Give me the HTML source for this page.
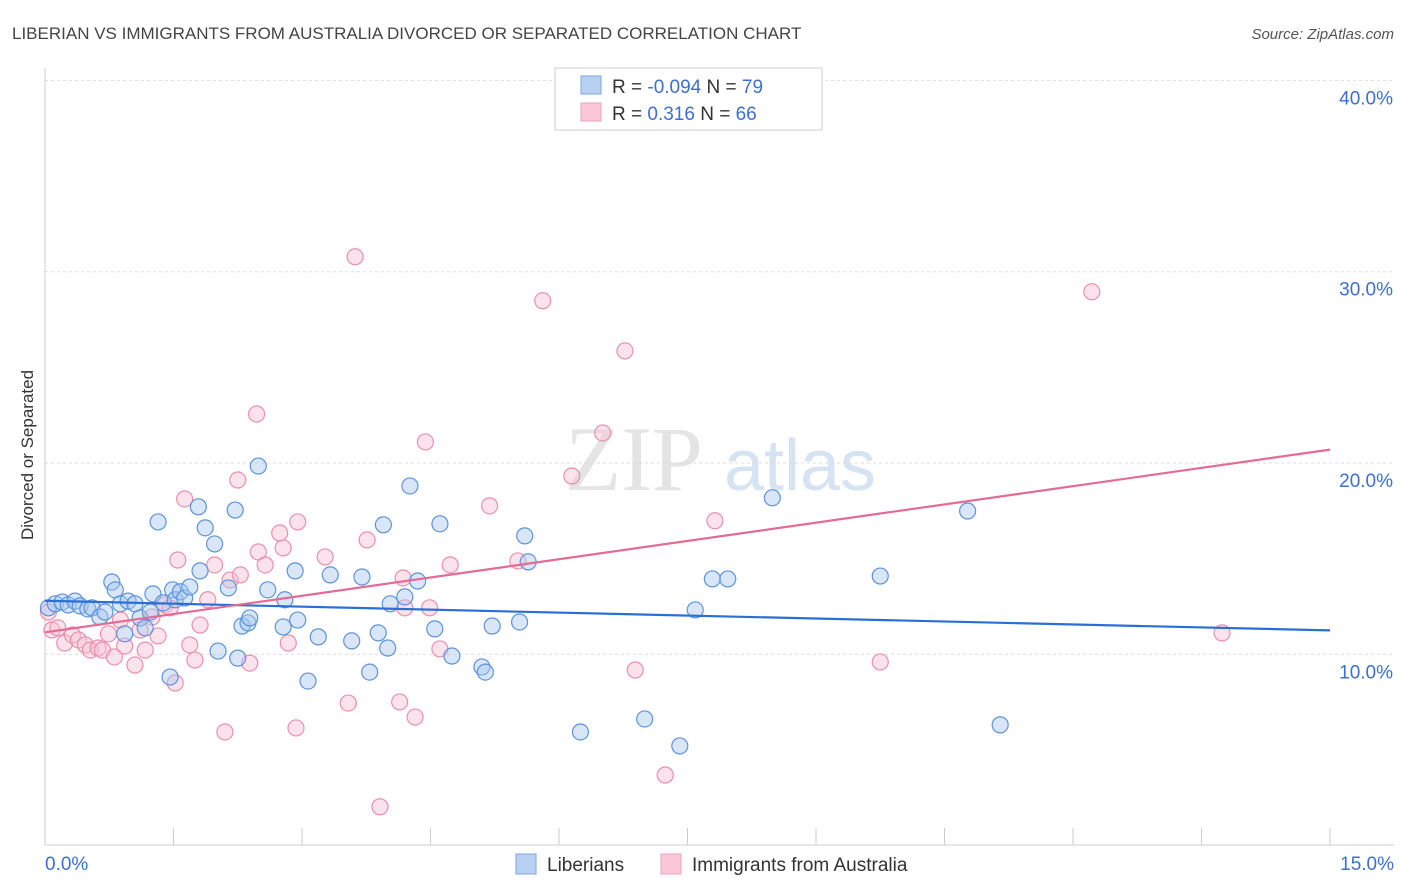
<!DOCTYPE html>
<html><head><meta charset="utf-8"><style>
body{margin:0;background:#fff;font-family:"Liberation Sans",sans-serif;}
svg{display:block}
</style></head><body>
<svg id="c" width="1406" height="892">
<text x="12" y="39" font-size="17" fill="#444">LIBERIAN VS IMMIGRANTS FROM AUSTRALIA DIVORCED OR SEPARATED CORRELATION CHART</text>
<text x="1394" y="39" font-size="15" fill="#555" text-anchor="end" font-style="italic">Source: ZipAtlas.com</text>
<text x="33" y="455" font-size="17" fill="#333" text-anchor="middle" transform="rotate(-90 33 455)">Divorced or Separated</text>
<text x="634" y="490" font-size="92" fill="#e4e4e4" text-anchor="middle" font-family="Liberation Serif,serif">ZIP</text>
<text x="800" y="490" font-size="72" fill="#d6e3f3" text-anchor="middle">atlas</text>
<g id="grid"></g><g id="marks"></g>
<g>
<rect x="555" y="68" width="267" height="62" fill="#fff" stroke="#ccc"/>
<rect x="581" y="76" width="20" height="18" fill="#b8d1f3" stroke="#7aa6e0"/>
<rect x="581" y="103" width="20" height="18" fill="#f9c7d6" stroke="#f0a0b8"/>
<text x="612" y="93" font-size="19" fill="#333">R = <tspan fill="#3d6fd0">-0.094</tspan>   N = <tspan fill="#3d6fd0">79</tspan></text>
<text x="612" y="120" font-size="19" fill="#333">R = <tspan fill="#3d6fd0">  0.316</tspan>   N = <tspan fill="#3d6fd0">66</tspan></text>
</g>
<g>
<rect x="516" y="854" width="20" height="20" fill="#b8d1f3" stroke="#7aa6e0"/>
<text x="547" y="871" font-size="19" fill="#333">Liberians</text>
<rect x="661" y="854" width="20" height="20" fill="#f9c7d6" stroke="#f0a0b8"/>
<text x="692" y="871" font-size="19" fill="#333">Immigrants from Australia</text>
</g>
</svg>
<script>
const yTicks=[10,20,30,40];
const yTickLabels=["10.0%","20.0%","30.0%","40.0%"];
const xTickLabels=["0.0%","15.0%"];
const blueX=[0.04,0.12,0.20,0.27,0.35,0.41,0.50,0.55,0.64,0.70,0.78,0.82,0.88,0.93,0.97,1.05,1.11,1.17,1.23,1.26,1.32,1.38,1.46,1.49,1.52,1.58,1.63,1.69,1.79,1.81,1.87,1.98,2.02,2.14,2.22,2.25,2.30,2.37,2.39,2.49,2.60,2.80,2.78,2.92,2.95,3.07,3.19,3.33,3.58,3.70,3.79,3.89,3.95,4.00,4.03,4.20,4.26,4.35,4.55,4.61,4.75,5.10,5.14,5.22,5.54,5.60,5.64,6.25,7.00,7.41,7.59,7.79,7.97,8.49,9.75,10.77,11.15];
const blueY=[12.43,12.64,12.73,12.58,12.78,12.53,12.37,12.43,11.95,12.21,13.78,13.37,12.64,11.07,12.78,12.64,11.90,11.38,12.21,13.16,16.92,12.69,8.81,13.37,12.85,13.27,12.94,13.52,17.71,14.36,16.61,15.77,10.17,13.47,17.54,9.80,11.48,11.64,11.90,19.84,13.37,12.85,11.43,14.36,11.79,8.60,10.91,14.15,10.70,14.04,9.07,11.12,16.77,10.33,12.64,13.00,18.80,13.83,11.33,16.82,9.91,9.34,9.07,11.48,11.69,16.19,14.83,5.94,6.62,5.21,12.32,13.94,13.94,18.18,14.09,17.49,6.31];
const pinkX=[0.04,0.08,0.15,0.23,0.32,0.39,0.47,0.53,0.62,0.67,0.74,0.81,0.88,0.93,1.05,1.11,1.17,1.25,1.32,1.40,1.46,1.52,1.55,1.63,1.69,1.75,1.81,1.90,1.98,2.10,2.16,2.25,2.28,2.39,2.47,2.49,2.57,2.74,2.78,2.84,2.93,2.95,3.27,3.54,3.62,3.76,3.91,4.14,4.18,4.20,4.32,4.44,4.49,4.61,4.73,5.19,5.52,5.81,6.15,6.51,6.77,6.89,7.24,7.82,9.75,12.22,13.74];
const pinkY=[12.21,11.27,11.38,10.59,11.01,10.75,10.49,10.22,10.33,10.22,11.07,9.86,11.79,10.43,9.44,11.27,10.22,11.95,10.96,12.58,12.43,8.50,14.93,18.12,10.49,9.70,11.53,12.85,14.67,5.94,13.88,19.11,14.15,9.54,22.56,15.35,14.67,16.34,15.56,10.59,6.15,16.92,15.09,7.45,30.78,15.98,2.03,7.51,13.99,12.43,6.72,21.10,12.43,10.28,14.67,17.76,14.88,28.48,19.32,21.57,25.86,9.18,3.69,16.98,9.60,28.95,11.12];
const blueTrend=[12.8,11.25];
const pinkTrend=[11.15,20.7];
const X0=45,X1=1330,Y0=845.6,PPY=19.13;
const sx=v=>X0+(v/15)*(X1-X0);
const sy=v=>Y0-v*PPY;
const NS="http://www.w3.org/2000/svg";
const grid=document.getElementById('grid'),marks=document.getElementById('marks');
function mk(tag,attrs,parent){const e=document.createElementNS(NS,tag);for(const k in attrs)e.setAttribute(k,attrs[k]);parent.appendChild(e);return e;}
yTicks.forEach((t,i)=>{
 const l=mk('line',{x1:45,x2:1394,y1:sy(t),y2:sy(t),stroke:'#ddd','stroke-dasharray':'3,3'},grid);
 
 
 const tx=mk('text',{x:1393,y:sy(t)+24,'font-size':19,fill:'#3d6fd0','text-anchor':'end'},grid);
 tx.textContent=yTickLabels[i];
 
 
});
const ax=mk('line',{x1:45,x2:45,y1:68,y2:845,stroke:'#ccc'},grid);


const bx=mk('line',{x1:45,x2:1394,y1:845,y2:845,stroke:'#ccc'},grid);


for(let i=1;i<=10;i++){const x=sx(i*1.5);const t=mk('line',{x1:x,x2:x,y1:828,y2:845,stroke:'#ccc'},grid);
 
 }
[[0,'start',45],[15,'end',1394]].forEach((d,i)=>{const t=mk('text',{x:d[2],y:870,'font-size':19,fill:'#3d6fd0','text-anchor':d[1]},grid);t.textContent=xTickLabels[i];
 
 });
function pts(xs,ys,fill,stroke,name){xs.forEach((v,i)=>{const c=mk('circle',{cx:sx(v),cy:sy(ys[i]),r:8,fill:fill,'fill-opacity':0.45,stroke:stroke,'stroke-width':1.2},marks);
 
 });}
pts(pinkX,pinkY,'#f8c0d2','#eb8fac','immigrants-australia-point');
pts(blueX,blueY,'#a9c8f0','#5b93dc','liberians-point');
const bl=mk('line',{x1:sx(0),y1:sy(blueTrend[0]),x2:sx(15),y2:sy(blueTrend[1]),stroke:'#2a6fd6','stroke-width':2.2},marks);


const pl=mk('line',{x1:sx(0),y1:sy(pinkTrend[0]),x2:sx(15),y2:sy(pinkTrend[1]),stroke:'#e56b97','stroke-width':2.2},marks);


</script>
</body></html>
